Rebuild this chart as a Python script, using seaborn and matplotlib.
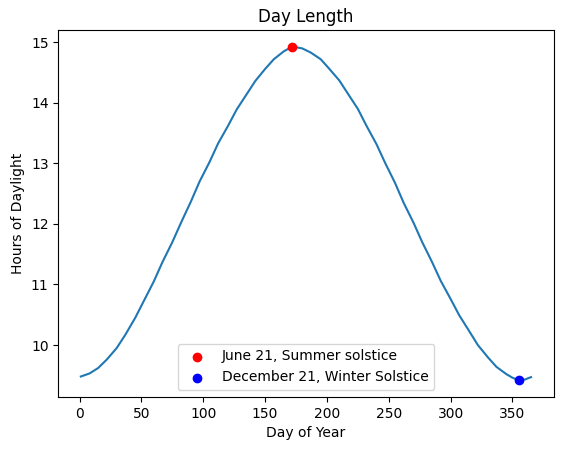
import matplotlib
matplotlib.use("Agg")
import matplotlib.pyplot as plt
import seaborn as sns
import pandas as pd

days = [1, 8, 15, 22, 30, 37, 45, 52, 60, 67, 75, 82, 90, 97, 105, 112, 120, 127, 135, 142, 150, 157, 165, 172, 180, 187, 195, 202, 210, 217, 225, 232, 240, 247, 255, 262, 270, 277, 285, 292, 300, 307, 315, 322, 330, 337, 345, 350, 355, 360, 365]
hours = [9.48, 9.53, 9.62, 9.76, 9.95, 10.17, 10.45, 10.73, 11.05, 11.37, 11.70, 12.02, 12.37, 12.70, 13.02, 13.33, 13.62, 13.89, 14.14, 14.36, 14.56, 14.72, 14.85, 14.93, 14.90, 14.83, 14.72, 14.56, 14.37, 14.15, 13.90, 13.62, 13.32, 13.01, 12.68, 12.35, 12.02, 11.70, 11.37, 11.06, 10.76, 10.49, 10.23, 10.00, 9.80, 9.64, 9.52, 9.46, 9.42, 9.43, 9.47]
summer_day, summer_hours = [172], [14.93]
winter_day, winter_hours = [355], [9.42]

plt.rcParams['font.family'] = ['DejaVu Sans']
fig, ax = plt.subplots(figsize=(5.66, 4.53), dpi=100)
df = pd.DataFrame({"day": days, "hours": hours})
sns.lineplot(data=df, x="day", y="hours", ax=ax, color="#1f77b4", lw=1.5)
ax.scatter(summer_day, summer_hours, color="red", label="June 21, Summer solstice", zorder=3)
ax.scatter(winter_day, winter_hours, color="blue", label="December 21, Winter Solstice", zorder=3)
ax.set_title("Day Length")
ax.set_xlabel("Day of Year")
ax.set_ylabel("Hours of Daylight")
ax.legend(loc="lower center")
fig.subplots_adjust(left=0.103, right=0.978, top=0.934, bottom=0.124)
fig.savefig("out.png", dpi=100)
